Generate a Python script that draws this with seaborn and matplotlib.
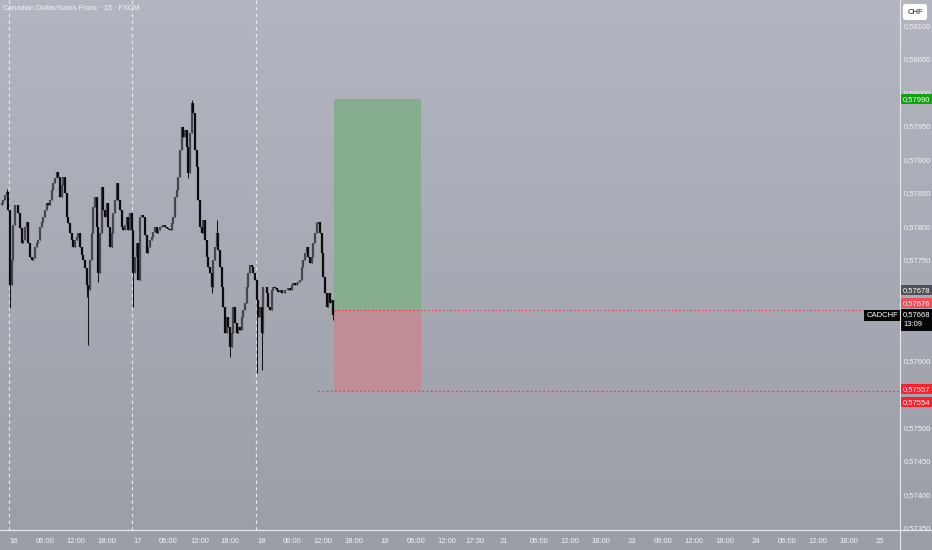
import numpy as np
import pandas as pd
import matplotlib
matplotlib.use('Agg')
import matplotlib.pyplot as plt
import matplotlib.transforms as mtransforms
from matplotlib.patches import Rectangle, FancyBboxPatch
from matplotlib.colors import LinearSegmentedColormap
from matplotlib.ticker import FuncFormatter
import seaborn as sns

# ---- data ----
closes = [
    0.57832, 0.57835, 0.57840, 0.57847, 0.57851, 0.57825, 0.57713, 0.57750, 0.57802, 0.57832,
    0.57832, 0.57820, 0.57798, 0.57775, 0.57780, 0.57799, 0.57807, 0.57775, 0.57754, 0.57750,
    0.57753, 0.57769, 0.57775, 0.57780, 0.57799, 0.57807, 0.57814, 0.57825, 0.57835, 0.57832,
    0.57840, 0.57854, 0.57865, 0.57872, 0.57881, 0.57874, 0.57844, 0.57862, 0.57874, 0.57850,
    0.57814, 0.57805, 0.57790, 0.57780, 0.57769, 0.57780, 0.57784, 0.57790, 0.57769, 0.57757,
    0.57750, 0.57738, 0.57713, 0.57705, 0.57750, 0.57790, 0.57829, 0.57844, 0.57799, 0.57731,
    0.57790, 0.57859, 0.57825, 0.57814, 0.57835, 0.57799, 0.57769, 0.57790, 0.57820, 0.57840,
    0.57865, 0.57840, 0.57825, 0.57799, 0.57795, 0.57802, 0.57814, 0.57795, 0.57820, 0.57795,
    0.57731, 0.57754, 0.57775, 0.57720, 0.57814, 0.57817, 0.57814, 0.57787, 0.57760, 0.57769,
    0.57780, 0.57784, 0.57792, 0.57799, 0.57790, 0.57795, 0.57799, 0.57801, 0.57802, 0.57799,
    0.57798, 0.57796, 0.57795, 0.57805, 0.57814, 0.57844, 0.57854, 0.57874, 0.57914, 0.57948,
    0.57934, 0.57944, 0.57919, 0.57880, 0.57940, 0.57984, 0.57969, 0.57914, 0.57889, 0.57840,
    0.57799, 0.57790, 0.57810, 0.57780, 0.57754, 0.57740, 0.57731, 0.57710, 0.57750, 0.57769,
    0.57790, 0.57765, 0.57740, 0.57710, 0.57680, 0.57641, 0.57665, 0.57650, 0.57620, 0.57641,
    0.57680, 0.57656, 0.57641, 0.57650, 0.57646, 0.57665, 0.57675, 0.57686, 0.57710, 0.57731,
    0.57743, 0.57740, 0.57731, 0.57720, 0.57690, 0.57665, 0.57680, 0.57641, 0.57710, 0.57710,
    0.57701, 0.57680, 0.57675, 0.57705, 0.57710, 0.57708, 0.57705, 0.57702, 0.57705, 0.57701,
    0.57701, 0.57705, 0.57705, 0.57708, 0.57705, 0.57713, 0.57716, 0.57713, 0.57716, 0.57717,
    0.57720, 0.57740, 0.57750, 0.57760, 0.57769, 0.57754, 0.57746, 0.57754, 0.57775, 0.57790,
    0.57805, 0.57807, 0.57790, 0.57760, 0.57725, 0.57701, 0.57680, 0.57701, 0.57686, 0.57690,
    0.57668,
]
# long wicks
low_idx = [6, 52, 53, 59, 80, 113, 127, 138, 154, 157, 200]
low_vals = [0.57678, 0.57695, 0.57623, 0.57717, 0.57680, 0.57872, 0.57701, 0.57605, 0.57581, 0.57586, 0.57660]
high_idx = [4, 115, 130]
high_vals = [0.57856, 0.57989, 0.57810]

# time axis in hours, 0 = label "16"
bar_start = -2.72
bar_step = 0.3236

tick_hours = [0, 6, 12, 18, 24, 30, 36, 42, 48, 54, 60, 66, 72, 78, 84, 89.5, 95,
              102, 108, 114, 120, 126, 132, 138, 144, 150, 156, 162, 168]
tick_labels = ['16', '06:00', '12:00', '18:00', '17', '06:00', '12:00', '18:00', '18',
               '06:00', '12:00', '18:00', '19', '06:00', '12:00', '17:30', '21',
               '06:00', '12:00', '18:00', '23', '06:00', '12:00', '18:00', '24',
               '06:00', '12:00', '18:00', '25']
day_lines = [-1, 23, 47]

# scale ticks that stay visible (the others sit under the price labels)
price_ticks = [0.57350, 0.57400, 0.57450, 0.57500, 0.57600,
               0.57750, 0.57800, 0.57850, 0.57900, 0.57950, 0.58000, 0.58050, 0.58100]

tp_price = 0.57990
entry_price = 0.57676
sl_price = 0.57554
pos_start, pos_end = 62.1, 79.0

# price scale labels: (price, colour, shift in px)
axis_prices = [0.57990, 0.57678, 0.57676, 0.57557, 0.57554]
axis_colors = ['#13a113', '#4e5055', '#ef4d59', '#ff1e2d', '#ff1e2d']
axis_shift = [0, 18, 6.5, 0, -11]
last_price = 0.57668
countdown = '13:09'
symbol = 'CADCHF'
title = 'Canadian Dollar/Swiss Franc \u00b7 15 \u00b7 FXCM'

# ---- candles ----
df = pd.DataFrame({'close': closes})
df['t'] = bar_start + bar_step * np.arange(len(df))
df['open'] = df['close'].shift(1).fillna(df['close'].iloc[0])
df['high'] = df[['open', 'close']].max(axis=1)
df['low'] = df[['open', 'close']].min(axis=1)
df.loc[low_idx, 'low'] = low_vals
df.loc[high_idx, 'high'] = high_vals
df['up'] = df['close'] >= df['open']

# ---- style ----
sns.set_theme(style='dark')
plt.rcParams['font.family'] = ['Liberation Sans Narrow', 'Liberation Sans', 'DejaVu Sans']
txt = '#f2f3f5'
fs = 5.5

W, H = 932, 550
fig = plt.figure(figsize=(W / 100, H / 100), dpi=100)

# background gradient
bg = fig.add_axes([0, 0, 1, 1])
cmap = LinearSegmentedColormap.from_list('tv', ['#b3b6c0', '#9b9ea7'])
bg.imshow(np.linspace(0, 1, 256).reshape(-1, 1), cmap=cmap, aspect='auto', extent=[0, 1, 0, 1])
bg.set_axis_off()

ax = fig.add_axes([0, 20 / H, 900 / W, 530 / H])
ax.set_facecolor('none')
ax.set_xlim(-2.72, 172.0)
ax.set_ylim(0.57347, 0.58138)
ax.grid(False)
for s in ax.spines.values():
    s.set_visible(False)

# day separators
for d in day_lines:
    ax.axvline(d, color='#f4f4f4', lw=0.8, ls=(0, (3, 3)), alpha=0.9, zorder=1)

up = df[df['up']]
dn = df[~df['up']]
ax.vlines(df['t'], df['low'], df['high'], color='#141414', lw=0.75, zorder=3)
ax.vlines(up['t'], up['open'], up['close'], color='#44474e', lw=1.6, zorder=3)
ax.vlines(dn['t'], dn['open'], dn['close'], color='#0c0c0c', lw=1.6, zorder=3)

# long position tool
ax.add_patch(Rectangle((pos_start, entry_price), pos_end - pos_start, tp_price - entry_price,
                       facecolor='#87ad90', edgecolor='none', zorder=2))
ax.add_patch(Rectangle((pos_start, sl_price), pos_end - pos_start, entry_price - sl_price,
                       facecolor='#bf8d95', edgecolor='none', zorder=2))
ax.hlines(entry_price, pos_start, 172.0, color='#f23645', lw=0.9, ls=(0, (1, 2)), zorder=2)
ax.hlines(sl_price, 59.0, 172.0, color='#ff2a3a', lw=1.0, ls=(0, (1, 2)), zorder=2)

# axes ticks
ax.set_xticks(tick_hours)
ax.set_xticklabels(tick_labels)
ax.yaxis.tick_right()
ax.set_yticks(price_ticks)
ax.yaxis.set_major_formatter(FuncFormatter(lambda v, _: f'{v:.5f}'.replace('.', ',')))
ax.tick_params(axis='both', length=0, colors=txt, labelsize=fs)
ax.tick_params(axis='x', pad=5.5)
ax.tick_params(axis='y', pad=3)

# axis lines
fig.add_artist(plt.Line2D([0, 1], [20 / H, 20 / H], color='#e6e7ea', lw=0.9))
fig.add_artist(plt.Line2D([900 / W, 900 / W], [0, 1], color='#e6e7ea', lw=0.8))

# price labels on the scale
blend = mtransforms.blended_transform_factory(ax.transAxes, ax.transData)
for p, c, sh in zip(axis_prices, axis_colors, axis_shift):
    ax.annotate(f'{p:.5f}'.replace('.', ','), xy=(1, p), xycoords=blend,
                xytext=(2.2, sh * 0.72), textcoords='offset points', ha='left', va='center',
                color='white', fontsize=fs, zorder=10, annotation_clip=False,
                bbox=dict(boxstyle='square,pad=0.22', fc=c, ec='none'))
ax.annotate(f'{last_price:.5f}'.replace('.', ',') + '\n' + countdown, xy=(1, last_price),
            xycoords=blend, xytext=(2.2, 2.6), textcoords='offset points', ha='left', va='top',
            color='white', fontsize=fs, linespacing=1.6, zorder=10, annotation_clip=False,
            bbox=dict(boxstyle='square,pad=0.3', fc='#050505', ec='none'))
ax.annotate(symbol, xy=(1, last_price), xycoords=blend, xytext=(-1.5, -0.5),
            textcoords='offset points', ha='right', va='center', color='white', fontsize=fs,
            zorder=10, annotation_clip=False,
            bbox=dict(boxstyle='square,pad=0.3', fc='#050505', ec='none'))

# currency box and title
fig.add_artist(FancyBboxPatch((903 / W, 1 - 20 / H), 24 / W, 16 / H,
                              boxstyle='round,pad=0,rounding_size=0.004',
                              fc='white', ec='none', transform=fig.transFigure))
fig.text(915 / W, 1 - 12 / H, 'CHF', ha='center', va='center', color='#131722', fontsize=fs)
fig.text(3 / W, 1 - 8 / H, title, ha='left', va='center', color=txt, fontsize=fs - 0.2)

fig.savefig('out.png', dpi=100)
